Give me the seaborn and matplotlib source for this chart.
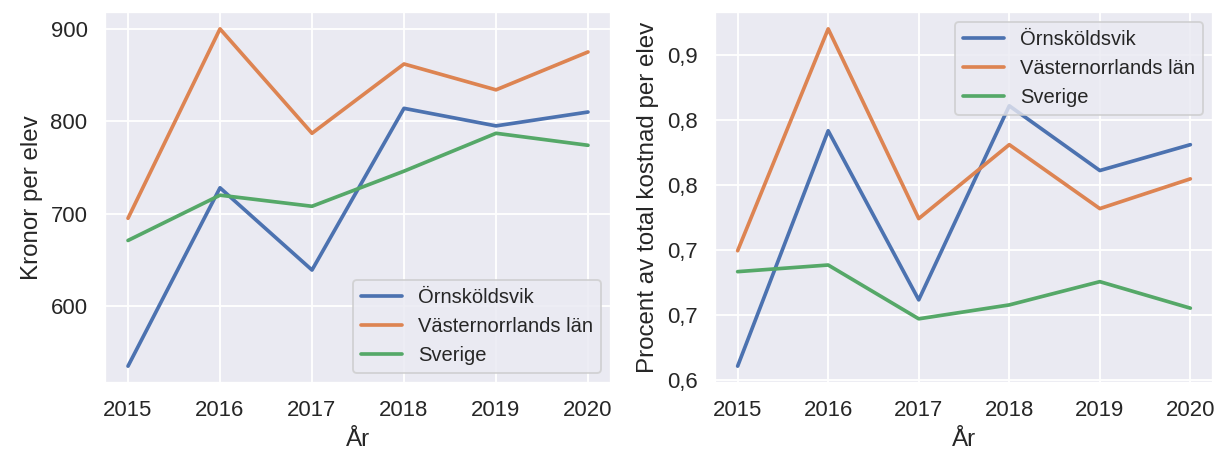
import matplotlib
matplotlib.use("Agg")
import matplotlib.pyplot as plt
import seaborn as sns
import pandas as pd

years = [2015, 2016, 2017, 2018, 2019, 2020]
series_names = ["Örnsköldsvik", "Västernorrlands län", "Sverige"]

kronor_ornskoldsvik = [535, 728, 639, 814, 795, 810]
kronor_vasternorrland = [695, 900, 787, 862, 834, 875]
kronor_sverige = [671, 720, 708, 746, 787, 774]

procent_ornskoldsvik = [0.6103, 0.7914, 0.6613, 0.8106, 0.7608, 0.7807]
procent_vasternorrland = [0.6991, 0.8698, 0.7238, 0.7807, 0.7315, 0.7544]
procent_sverige = [0.6830, 0.6881, 0.6467, 0.6574, 0.6753, 0.6549]

left_yticks = [600, 700, 800, 900]
right_yticks = [0.60, 0.65, 0.70, 0.75, 0.80, 0.85]
right_yticklabels = ["0,6", "0,7", "0,7", "0,8", "0,8", "0,9"]

def long_df(a, b, c):
    rows = []
    for name, vals in zip(series_names, [a, b, c]):
        for y, v in zip(years, vals):
            rows.append({"År": y, "värde": v, "serie": name})
    return pd.DataFrame(rows)

df_kr = long_df(kronor_ornskoldsvik, kronor_vasternorrland, kronor_sverige)
df_pr = long_df(procent_ornskoldsvik, procent_vasternorrland, procent_sverige)

sns.set_theme(style="darkgrid", context="notebook", font_scale=1.1)
plt.rcParams["font.family"] = ["Liberation Sans", "DejaVu Sans"]

dpi = 132
fig = plt.figure(figsize=(1216 / dpi, 461 / dpi), dpi=dpi)
ax1 = fig.add_axes([105 / 1216, 1 - 383 / 461, (611 - 105) / 1216, (383 - 12) / 461])
ax2 = fig.add_axes([715 / 1216, 1 - 383 / 461, (1213 - 715) / 1216, (383 - 12) / 461])

sns.lineplot(data=df_kr, x="År", y="värde", hue="serie", ax=ax1, linewidth=2)
ax1.set_ylabel("Kronor per elev")
ax1.set_xlabel("År")
ax1.set_yticks(left_yticks)
ax1.set_xticks(years)
ax1.legend(loc="lower right", title=None, fontsize=11)

sns.lineplot(data=df_pr, x="År", y="värde", hue="serie", ax=ax2, linewidth=2)
ax2.set_ylabel("Procent av total kostnad per elev")
ax2.set_xlabel("År")
ax2.set_yticks(right_yticks)
ax2.set_yticklabels(right_yticklabels)
ax2.set_xticks(years)
ax2.legend(loc="upper right", title=None, fontsize=11)

fig.savefig("out.png", dpi=dpi)
